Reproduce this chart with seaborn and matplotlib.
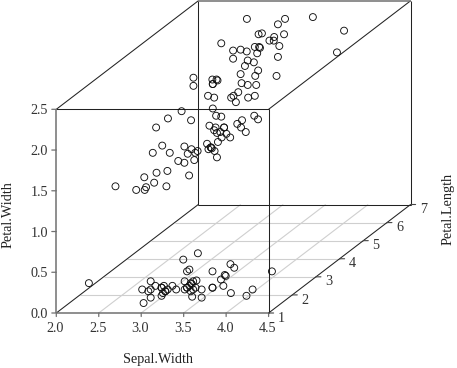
import matplotlib
matplotlib.use("Agg")
import matplotlib.pyplot as plt
import numpy as np
import pandas as pd
import seaborn as sns

sepal_width = [3.5,3.0,3.2,3.1,3.6,3.9,3.4,3.4,2.9,3.1,3.7,3.4,3.0,3.0,4.0,4.4,3.9,3.5,3.8,3.8,3.4,3.7,3.6,3.3,3.4,3.0,3.4,3.5,3.4,3.2,3.1,3.4,4.1,4.2,3.1,3.2,3.5,3.6,3.0,3.4,3.5,2.3,3.2,3.5,3.8,3.0,3.8,3.2,3.7,3.3,
 3.2,3.2,3.1,2.3,2.8,2.8,3.3,2.4,2.9,2.7,2.0,3.0,2.2,2.9,2.9,3.1,3.0,2.7,2.2,2.5,3.2,2.8,2.5,2.8,2.9,3.0,2.8,3.0,2.9,2.6,2.4,2.4,2.7,2.7,3.0,3.4,3.1,2.3,3.0,2.5,2.6,3.0,2.6,2.3,2.7,3.0,2.9,2.9,2.5,2.8,
 3.3,2.7,3.0,2.9,3.0,3.0,2.5,2.9,2.5,3.6,3.2,2.7,3.0,2.5,2.8,3.2,3.0,3.8,2.6,2.2,3.2,2.8,2.8,2.7,3.3,3.2,2.8,3.0,2.8,3.0,2.8,3.8,2.8,2.8,2.6,3.0,3.4,3.1,3.0,3.1,3.1,3.1,2.7,3.2,3.3,3.0,2.5,3.0,3.4,3.0]
petal_length = [1.4,1.4,1.3,1.5,1.4,1.7,1.4,1.5,1.4,1.5,1.5,1.6,1.4,1.1,1.2,1.5,1.3,1.4,1.7,1.5,1.7,1.5,1.0,1.7,1.9,1.6,1.6,1.5,1.4,1.6,1.6,1.5,1.5,1.4,1.5,1.2,1.3,1.4,1.3,1.5,1.3,1.3,1.3,1.6,1.9,1.4,1.6,1.4,1.5,1.4,
 4.7,4.5,4.9,4.0,4.6,4.5,4.7,3.3,4.6,3.9,3.5,4.2,4.0,4.7,3.6,4.4,4.5,4.1,4.5,3.9,4.8,4.0,4.9,4.7,4.3,4.4,4.8,5.0,4.5,3.5,3.8,3.7,3.9,5.1,4.5,4.5,4.7,4.4,4.1,4.0,4.4,4.6,4.0,3.3,4.2,4.2,4.2,4.3,3.0,4.1,
 6.0,5.1,5.9,5.6,5.8,6.6,4.5,6.3,5.8,6.1,5.1,5.3,5.5,5.0,5.1,5.3,5.5,6.7,6.9,5.0,5.7,4.9,6.7,4.9,5.7,6.0,4.8,4.9,5.6,5.8,6.1,6.4,5.6,5.1,5.6,6.1,5.6,5.5,4.8,5.4,5.6,5.1,5.1,5.9,5.7,5.2,5.0,5.2,5.4,5.1]
petal_width = [0.2,0.2,0.2,0.2,0.2,0.4,0.3,0.2,0.2,0.1,0.2,0.2,0.1,0.1,0.2,0.4,0.4,0.3,0.3,0.3,0.2,0.4,0.2,0.5,0.2,0.2,0.4,0.2,0.2,0.2,0.2,0.4,0.1,0.2,0.2,0.2,0.2,0.1,0.2,0.2,0.3,0.3,0.2,0.6,0.4,0.3,0.2,0.2,0.2,0.2,
 1.4,1.5,1.5,1.3,1.5,1.3,1.6,1.0,1.3,1.4,1.0,1.5,1.0,1.4,1.3,1.4,1.5,1.0,1.5,1.1,1.8,1.3,1.5,1.2,1.3,1.4,1.4,1.7,1.5,1.0,1.1,1.0,1.2,1.6,1.5,1.6,1.5,1.3,1.3,1.3,1.2,1.4,1.2,1.0,1.3,1.2,1.3,1.3,1.1,1.3,
 2.5,1.9,2.1,1.8,2.2,2.1,1.7,1.8,1.8,2.5,2.0,1.9,2.1,2.0,2.4,2.3,1.8,2.2,2.3,1.5,2.3,2.0,2.0,1.8,2.1,1.8,1.8,1.8,2.1,1.6,1.9,2.0,2.2,1.5,1.4,2.3,2.4,1.8,1.8,2.1,2.4,2.3,1.9,2.3,2.5,2.3,1.9,2.0,2.3,1.8]

x_ticks = [2.0, 2.5, 3.0, 3.5, 4.0, 4.5]
y_ticks = [1, 2, 3, 4, 5, 6, 7]
z_ticks = [0.0, 0.5, 1.0, 1.5, 2.0, 2.5]
x_label, y_label, z_label = "Sepal.Width", "Petal.Length", "Petal.Width"

W, H = 457, 368
X0, X1 = 56.3, 268.6
Z0, Z1 = 313.0, 109.3
DX, DY = 142.0, 108.5
sx = (X1 - X0) / (x_ticks[-1] - x_ticks[0])
sz = (Z0 - Z1) / (z_ticks[-1] - z_ticks[0])

def proj(x, y, z):
    t = (np.asarray(y, float) - y_ticks[0]) / (y_ticks[-1] - y_ticks[0])
    return np.asarray(x, float) + t * DX / sx, np.asarray(z, float) + t * DY / sz

sns.set_style("white")
plt.rcParams["font.family"] = ["Liberation Serif", "DejaVu Serif"]

fig = plt.figure(figsize=(W / 100, H / 100), dpi=100)
ax = fig.add_axes([0, 0, 1, 1])
ax.set_xlim(x_ticks[0] - X0 / sx, x_ticks[0] + (W - X0) / sx)
ax.set_ylim(z_ticks[0] - (H - Z0) / sz, z_ticks[0] + Z0 / sz)
ax.axis("off")

def seg(p, q, **kw):
    a, b = proj(*p), proj(*q)
    ax.plot([a[0], b[0]], [a[1], b[1]], clip_on=False, solid_capstyle="butt", **kw)

xa, xb = x_ticks[0], x_ticks[-1]
ya, yb = y_ticks[0], y_ticks[-1]
za, zb = z_ticks[0], z_ticks[-1]

grid = dict(color="#cfcfcf", lw=0.8, zorder=1)
for v in x_ticks[1:-1]:
    seg((v, ya, za), (v, yb, za), **grid)
for v in y_ticks[1:-1]:
    seg((xa, v, za), (xb, v, za), **grid)

dark = dict(color="#222222", lw=0.75, zorder=2)
seg((xa, ya, zb), (xb, ya, zb), **dark)
seg((xb, ya, za), (xb, ya, zb), **dark)
seg((xa, yb, za), (xa, yb, zb), **dark)
seg((xa, yb, za), (xb, yb, za), **dark)
seg((xb, yb, za), (xb, yb, zb), **dark)
seg((xa, ya, za), (xa, yb, za), **dark)
seg((xb, ya, za), (xb, yb, za), **dark)
seg((xa, ya, zb), (xa, yb, zb), **dark)
seg((xb, ya, zb), (xb, yb, zb), **dark)

axis = dict(color="#707070", lw=1.1, zorder=2)
seg((xa, ya, za), (xb, ya, za), **axis)
seg((xa, ya, za), (xa, ya, zb), **axis)
seg((xa, yb, zb), (xb, yb, zb), **axis)

df = pd.DataFrame({"x": sepal_width, "y": petal_length, "z": petal_width})
df["px"], df["pz"] = proj(df["x"], df["y"], df["z"])
sns.scatterplot(data=df, x="px", y="pz", ax=ax, s=25, marker="o", facecolor="none",
                edgecolor="#111111", linewidth=0.65, legend=False, zorder=3, clip_on=False)
ax.set_xlabel("")
ax.set_ylabel("")

FS = 10.2
PT = 0.72  # points per pixel
tick_style = dict(arrowstyle="-", shrinkA=0, shrinkB=0)
for v in x_ticks:
    p = proj(v, ya, za)
    ax.annotate("", p, xytext=(0, -3.5 * PT), textcoords="offset points",
                arrowprops=dict(color="#707070", lw=0.9, **tick_style))
    ax.annotate(f"{v:.1f}", p, xytext=(-0.8 * PT, -9.5 * PT), textcoords="offset points",
                ha="center", va="top", fontsize=FS, color="#333333")
for v in z_ticks:
    p = proj(xa, ya, v)
    ax.annotate("", p, xytext=(-4.5 * PT, 0), textcoords="offset points",
                arrowprops=dict(color="#707070", lw=0.9, **tick_style))
    ax.annotate(f"{v:.1f}", p, xytext=(-8.5 * PT, 0), textcoords="offset points",
                ha="right", va="center_baseline", fontsize=FS, color="#333333")
for v in y_ticks:
    p = proj(xb, v, za)
    ax.annotate("", p, xytext=(5 * PT, 0), textcoords="offset points",
                arrowprops=dict(color="#444444", lw=0.8, **tick_style))
    ax.annotate(str(v), p, xytext=(12.8 * PT, -3.6 * PT), textcoords="offset points",
                ha="center", va="center_baseline", fontsize=FS, color="#333333")

def fig_text(px, py, s, **kw):
    fig.text(px / W, 1 - py / H, s, ha="center", va="center", fontsize=10.3, color="#222222", **kw)

fig_text(158, 359, x_label)
fig_text(8, 215, z_label, rotation=90)
fig_text(448, 209, y_label, rotation=90)

fig.savefig("out.png", dpi=100)
